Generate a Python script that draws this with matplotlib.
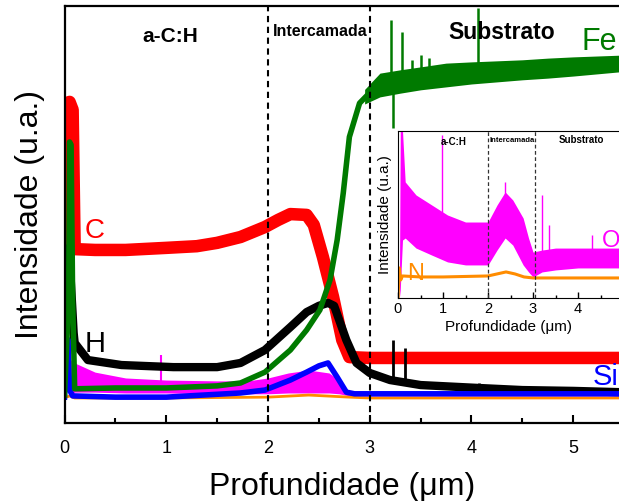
import matplotlib.pyplot as plt
from matplotlib.ticker import MultipleLocator

plt.rcParams['font.family'] = ['Liberation Sans', 'DejaVu Sans']

# GDOES depth profile, depth in um, intensity in arbitrary units (0-100)
c_x = [0.01, 0.02, 0.05, 0.08, 0.1, 0.3, 0.6, 1.0, 1.3, 1.5, 1.73, 1.97, 2.1, 2.22, 2.38,
       2.45, 2.54, 2.64, 2.73, 2.8, 3.0, 4.0, 5.45]
c_y = [41.5, 76.7, 77.0, 75.1, 41.7, 41.5, 41.5, 42.0, 42.4, 43.2, 44.6, 47.0, 48.7, 50.1, 49.9,
       47.5, 39.8, 30.2, 19.9, 15.8, 15.6, 15.6, 15.6]

fe_x = [0.0, 0.04, 0.05, 0.065, 0.08, 0.1, 0.5, 1.0, 1.5, 1.73, 1.97, 2.22, 2.38, 2.51, 2.61,
        2.68, 2.74, 2.8, 2.9, 3.0, 3.1, 3.3, 3.5, 3.75, 4.0, 4.5, 5.0, 5.45]
fe_y = [6.7, 29.5, 67.4, 66.7, 29.5, 8.2, 8.4, 8.4, 8.9, 9.6, 12.2, 17.5, 22.3, 27.1, 34.3,
        43.9, 55.2, 68.6, 76.7, 79.2, 81.0, 81.9, 82.7, 83.5, 84.0, 84.7, 85.5, 86.2]
# noisy band of the Fe signal inside the substrate
fe_band_x = [2.95, 3.1, 3.3, 3.5, 3.75, 4.0, 4.5, 4.75, 5.0, 5.45]
fe_band_hi = [80.0, 83.9, 84.7, 85.4, 86.3, 86.6, 87.1, 87.5, 87.8, 88.2]
fe_band_lo = [76.5, 78.2, 79.1, 79.9, 80.6, 81.3, 82.3, 82.7, 83.2, 84.2]
fe_spike_x = [3.21, 3.23, 3.32, 3.42, 3.5, 3.58, 4.06]
fe_spike_lo = [80.0, 70.7, 81.0, 82.0, 82.0, 82.5, 83.0]
fe_spike_hi = [96.6, 82.0, 93.8, 87.0, 88.2, 87.5, 99.5]

h_x = [0.005, 0.03, 0.06, 0.09, 0.1, 0.23, 0.56, 1.07, 1.5, 1.73, 1.97, 2.22, 2.38, 2.5,
       2.59, 2.65, 2.7, 2.77, 2.87, 3.0, 3.2, 3.5, 4.07, 4.5, 5.0, 5.45]
h_y = [41.5, 40.3, 35.0, 21.6, 19.2, 15.1, 13.9, 13.4, 13.4, 14.4, 17.5, 23.0, 26.6, 28.1,
       28.8, 28.1, 24.7, 19.9, 14.4, 12.0, 10.3, 9.1, 8.4, 7.9, 7.7, 7.4]
h_spike_x = [3.23, 3.35, 4.07]
h_spike_lo = [10.5, 10.0, 8.4]
h_spike_hi = [19.9, 18.0, 9.6]

si_x = [0.0, 0.02, 0.035, 0.05, 0.08, 0.5, 1.0, 1.73, 1.97, 2.22, 2.38, 2.5, 2.59, 2.68,
        2.77, 2.85, 3.0, 4.0, 5.45]
si_y = [6.2, 20.4, 19.9, 7.9, 6.5, 6.2, 6.2, 7.2, 7.9, 10.3, 12.2, 13.7, 14.4, 11.0,
        7.4, 7.0, 7.0, 7.0, 7.0]

o_x = [0.06, 0.1, 0.3, 0.6, 1.0, 1.5, 1.8, 2.0, 2.2, 2.4, 2.6, 2.7, 2.8, 3.0, 5.45]
o_hi = [15.1, 14.4, 12.2, 10.8, 10.3, 10.1, 10.1, 10.8, 12.0, 12.7, 12.0, 10.3, 7.4, 7.2, 7.2]
o_lo = [6.7, 7.4, 7.4, 7.2, 7.2, 7.0, 7.0, 7.0, 7.2, 7.2, 7.2, 7.0, 6.5, 6.5, 6.5]
o_spike_x = [0.95]
o_spike_hi = [16.3]

n_x = [0.0, 0.05, 0.1, 1.0, 2.0, 2.4, 2.8, 3.0, 5.45]
n_y = [6.0, 6.5, 6.0, 6.0, 6.2, 6.7, 6.2, 6.0, 6.0]

# inset: O and N on their own scale
io_x = [0.03, 0.05, 0.1, 0.16, 0.4, 0.75, 1.1, 1.5, 2.0, 2.2, 2.38, 2.55, 2.78, 2.9, 3.0,
        3.2, 3.5, 4.0, 4.5, 4.91]
io_hi = [0.0, 100.0, 100.0, 69.5, 61.7, 55.7, 49.7, 45.5, 45.5, 55.7, 63.5, 58.7, 47.9,
         35.9, 27.5, 28.7, 29.9, 29.9, 29.9, 29.9]
io_lo = [0.0, 4.8, 34.7, 35.9, 29.9, 25.7, 21.6, 19.8, 19.8, 28.7, 35.9, 31.7, 19.8, 15.6,
         12.6, 15.6, 16.8, 18.0, 18.0, 18.0]
io_spike_x = [0.98, 2.38, 3.2, 3.35, 4.3]
io_spike_hi = [97.6, 69.5, 61.7, 43.7, 38.0]
io_spike_lo = [40.0, 50.0, 28.0, 28.0, 28.0]

in_x = [0.0, 0.03, 0.06, 0.1, 0.5, 1.0, 2.0, 2.2, 2.4, 2.6, 2.8, 3.0, 4.0, 4.91]
in_y = [0.0, 18.0, 10.8, 13.2, 12.6, 12.6, 13.2, 14.4, 15.6, 14.4, 12.6, 12.0, 12.0, 12.0]

red = '#ff0000'
green = '#007a00'
blue = '#0000ff'
magenta = '#ff00ff'
orange = '#ff8c00'

fig = plt.figure(figsize=(6.19, 5.01), dpi=100)
ax = fig.add_axes([64.5 / 619, 78 / 501, (619 - 64.5) / 619, 417 / 501])

ax.fill_between(o_x, o_lo, o_hi, color=magenta, lw=0)
ax.vlines(o_spike_x, 10.0, o_spike_hi, color=magenta, lw=1.5)
ax.plot(n_x, n_y, color=orange, lw=2)
ax.plot(c_x, c_y, color=red, lw=9, solid_joinstyle='round')
ax.plot(h_x, h_y, color='black', lw=6, solid_joinstyle='round')
ax.vlines(h_spike_x, h_spike_lo, h_spike_hi, color='black', lw=2)
ax.plot(si_x, si_y, color=blue, lw=4, solid_joinstyle='round')
ax.plot(fe_x, fe_y, color=green, lw=4, solid_joinstyle='round')
ax.fill_between(fe_band_x, fe_band_lo, fe_band_hi, color=green, lw=0)
ax.vlines(fe_spike_x, fe_spike_lo, fe_spike_hi, color=green, lw=1.8)

for xv in (2, 3):
    ax.axvline(xv, color='black', lw=1.5, ls=(0, (3, 2.2)))

ax.text(0.20, 44.4, 'C', color=red, fontsize=20)
ax.text(0.20, 17.0, 'H', color='black', fontsize=21)
ax.text(5.08, 89.4, 'Fe', color=green, fontsize=22)
ax.text(5.19, 9.1, 'Si', color=blue, fontsize=21)

ax.text(1.04, 92.8, 'a-C:H', fontsize=15, fontweight='bold', ha='center', va='center')
ax.text(2.51, 93.8, 'Intercamada', fontsize=11.5, fontweight='bold', ha='center', va='center')
ax.text(4.3, 93.6, 'Substrato', fontsize=16.5, fontweight='bold', ha='center', va='center')

ax.set_xlim(0, 5.45)
ax.set_ylim(0, 100)
ax.set_yticks([])
ax.xaxis.set_major_locator(MultipleLocator(1))
ax.xaxis.set_minor_locator(MultipleLocator(0.5))
ax.tick_params(axis='x', which='major', direction='in', length=6, width=1.5,
               labelsize=13, pad=12)
ax.tick_params(axis='x', which='minor', direction='in', length=3.5, width=1.5)
for side in ('left', 'top', 'bottom'):
    ax.spines[side].set_linewidth(1.6)
ax.spines['right'].set_visible(False)
ax.set_xlabel('Profundidade (μm)', fontsize=23, labelpad=11)
ax.set_ylabel('Intensidade (u.a.)', fontsize=23, labelpad=14)

# inset with the O and N signals
ins = fig.add_axes([398 / 619, 203 / 501, 221 / 619, 167 / 501])
ins.fill_between(io_x, io_lo, io_hi, color=magenta, lw=0)
ins.vlines(io_spike_x, io_spike_lo, io_spike_hi, color=magenta, lw=1)
ins.plot(in_x, in_y, color=orange, lw=2.2)
for xv in (2.0, 3.05):
    ins.axvline(xv, color='#333333', lw=0.9, ls=(0, (3, 2)))

ins.text(0.2, 10.8, 'N', color=orange, fontsize=17)
ins.text(4.53, 30.5, 'O', color=magenta, fontsize=17)
ins.text(1.24, 93.4, 'a-C:H', fontsize=7, fontweight='bold', ha='center', va='center')
ins.text(2.53, 94.6, 'Intercamada', fontsize=5.5, fontweight='bold', ha='center', va='center')
ins.text(4.07, 94.6, 'Substrato', fontsize=7, fontweight='bold', ha='center', va='center')

ins.set_xlim(0, 4.91)
ins.set_ylim(0, 100)
ins.set_yticks([])
ins.xaxis.set_major_locator(MultipleLocator(1))
ins.xaxis.set_minor_locator(MultipleLocator(0.5))
ins.tick_params(axis='x', which='major', direction='in', length=4, width=1,
                labelsize=10.5, pad=3)
ins.tick_params(axis='x', which='minor', direction='in', length=2, width=1)
ins.spines['right'].set_visible(False)
ins.set_xlabel('Profundidade (μm)', fontsize=11, labelpad=3)
ins.set_ylabel('Intensidade (u.a.)', fontsize=11, labelpad=4)

fig.savefig('out.png', dpi=100)
